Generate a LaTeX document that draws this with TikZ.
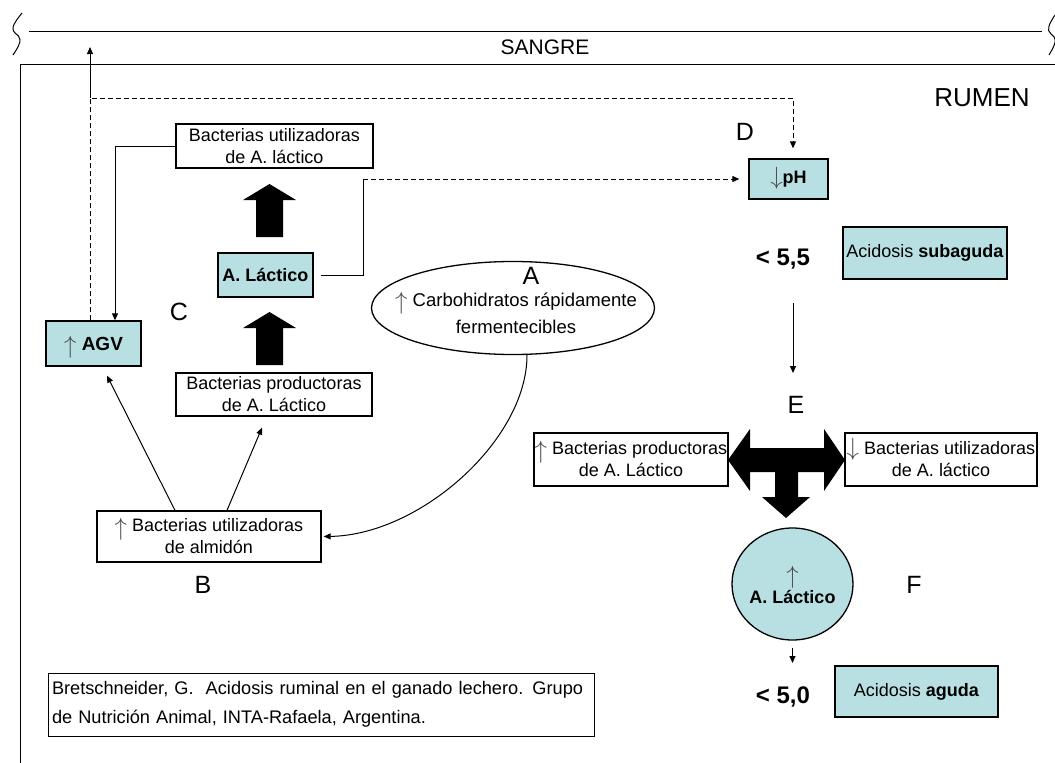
\documentclass[tikz,border=0pt]{standalone}
\usepackage{fontspec}
\setmainfont{Liberation Sans}
\usetikzlibrary{arrows.meta,shapes.geometric}
\definecolor{celeste}{RGB}{184,224,226}
\newcommand{\arriba}{\smash{\raisebox{-0.35ex}{\color{black!70}\fontsize{26}{26}\selectfont$\uparrow$}}}
\newcommand{\abajo}{\smash{\raisebox{-0.1ex}{\color{black!70}\fontsize{26}{26}\selectfont$\downarrow$}}}

\begin{document}
\begin{tikzpicture}[x=1pt,y=-1pt, line width=1pt,
    >={Triangle[length=7pt,width=6pt]},
    caja/.style={draw, line width=1.3pt, align=center, inner sep=0pt, font=\fontsize{18}{22}\selectfont},
    cajac/.style={caja, fill=celeste},
    letra/.style={font=\fontsize{25}{25}\selectfont},
    valor/.style={font=\fontsize{24}{24}\selectfont\bfseries},
    guion/.style={dash pattern=on 5pt off 3pt}]
    \useasboundingbox (0,0) rectangle (1055,763);

    % Sangre y rumen
    \draw (29,31) -- (1042,31);
    \draw (22,13) .. controls (15,22) and (10,28) .. (15,33) .. controls (20,37) and (24,39) .. (13,55);
    \draw (1055,15) .. controls (1049,24) and (1046,30) .. (1051,34) .. controls (1056,38) and (1058,40) .. (1049,55);
    \draw (20,763) -- (20,64) -- (1055,64);
    \node[font=\fontsize{21}{21}\selectfont] (sangre) at (545,47) {SANGRE};
    \node[font=\fontsize{26}{26}\selectfont] (rumen) at (982,98) {RUMEN};

    % Columna izquierda
    \node[caja, minimum width=197, minimum height=44] (utilLac) at (274.5,146) {Bacterias utilizadoras\\de A. láctico};
    \node[cajac, minimum width=95, minimum height=44, font=\fontsize{18}{22}\selectfont\bfseries] (lactico) at (265.5,275) {A. Láctico};
    \node[cajac, minimum width=95, minimum height=45, font=\fontsize{19}{22}\selectfont] (agv) at (93.5,343.5) {\arriba\ \textbf{AGV}};
    \node[caja, minimum width=196, minimum height=43] (prodLac) at (274,394.5) {Bacterias productoras\\de A. Láctico};
    \node[caja, minimum width=224, minimum height=51] (almidon) at (209,536.5) {\arriba\ Bacterias utilizadoras\\de almidón};
    \node[ellipse, draw, line width=1.3pt, minimum width=283, minimum height=93, inner sep=0pt] (carbo) at (513,308) {};
    \node[align=center, font=\fontsize{18.5}{27}\selectfont] (carboTxt) at (516,313) {\arriba\ Carbohidratos rápidamente\\fermentecibles};

    % Flechas gruesas
    \fill (269.5,184) -- (296,200) -- (283,200) -- (283,237) -- (256,237) -- (256,200) -- (243,200) -- cycle;
    \fill (269.5,312) -- (296,328) -- (283,328) -- (283,365) -- (256,365) -- (256,328) -- (243,328) -- cycle;

    % Columna derecha
    \node[cajac, minimum width=79, minimum height=40] (ph) at (788.5,179) {\abajo\textbf{pH}};
    \node[valor] (lt55) at (783,259) {< 5,5};
    \node[cajac, minimum width=164, minimum height=52] (sub) at (925,253) {Acidosis \textbf{subaguda}};
    \node[caja, minimum width=194, minimum height=53] (bacProd) at (631,459.5) {\arriba\ Bacterias productoras\\de A. Láctico};
    \node[caja, minimum width=192, minimum height=53] (bacUtil) at (941,459.5) {\abajo\ Bacterias utilizadoras\\de A. láctico};
    \fill (728,460) -- (750,429) -- (750,448) -- (824,448) -- (824,429) -- (845,460) -- (824,491) -- (824,472)
        -- (798,472) -- (798,497) -- (810,497) -- (786,518) -- (762,497) -- (775,497) -- (775,472) -- (750,472)
        -- (750,491) -- cycle;
    \node[ellipse, draw, fill=celeste, line width=1.3pt, minimum width=121, minimum height=112, inner sep=0pt] (lacF) at (792.5,584) {};
    \node[align=center, font=\fontsize{18}{23}\selectfont] (lacFTxt) at (792.5,592) {\arriba\\\textbf{A. Láctico}};
    \node[valor] (lt50) at (783,697) {< 5,0};
    \node[cajac, minimum width=163, minimum height=51] (aguda) at (916.5,691.5) {Acidosis \textbf{aguda}};

    % Letras
    \node[letra] (labA) at (531,276) {A};
    \node[letra] (labB) at (203,585) {B};
    \node[letra] (labC) at (179,312) {C};
    \node[letra] (labD) at (745,132) {D};
    \node[letra] (labE) at (796,405) {E};
    \node[letra] (labF) at (914,585) {F};

    % Cita
    \node[caja, line width=1pt, inner xsep=4pt, minimum height=63, text width=538, align=left,
        font=\fontsize{18.2}{29}\selectfont] (cita) at (321,704.5)
        {Bretschneider, G.\ \ Acidosis ruminal en el ganado lechero. Grupo\\de Nutrición Animal, INTA-Rafaela, Argentina.};

    % Conectores
    \coordinate (topL) at (90,98);
    \coordinate (toBlood) at (90,47);
    \coordinate (topR) at (793,98);
    \coordinate (lacTurn) at ([xshift=-385pt]ph.west);
    \coordinate (eTop) at (793,303);
    \coordinate (eBot) at (793,373);
    \coordinate (fBot) at (792.5,663);
    \draw[guion,->] ([xshift=-3.5pt]agv.north) -- (topL) -- (topR) -- ([xshift=4.5pt,yshift=10pt]ph.north);
    \draw[->] (topL) -- (toBlood);
    \draw[->] (utilLac.west) -| ([xshift=21.5pt]agv.north);
    \draw ([xshift=7pt]lactico.east) -| (lacTurn);
    \draw[guion,->] (lacTurn) -- ([xshift=-9pt]ph.west);
    \draw[->] ([xshift=-34pt]almidon.north) -- ([xshift=13.5pt,yshift=-9pt]agv.south);
    \draw[->] ([xshift=18pt]almidon.north) -- ([xshift=-12pt,yshift=-11pt]prodLac.south);
    \draw[->] ([xshift=14pt]carbo.south) .. controls (527,440) and (420,535) .. ([xshift=2pt]almidon.east);
    \draw[->] (eTop) -- (eBot);
    \draw[->] ([yshift=-7pt]lacF.south) -- (fBot);

\end{tikzpicture}
\end{document}
